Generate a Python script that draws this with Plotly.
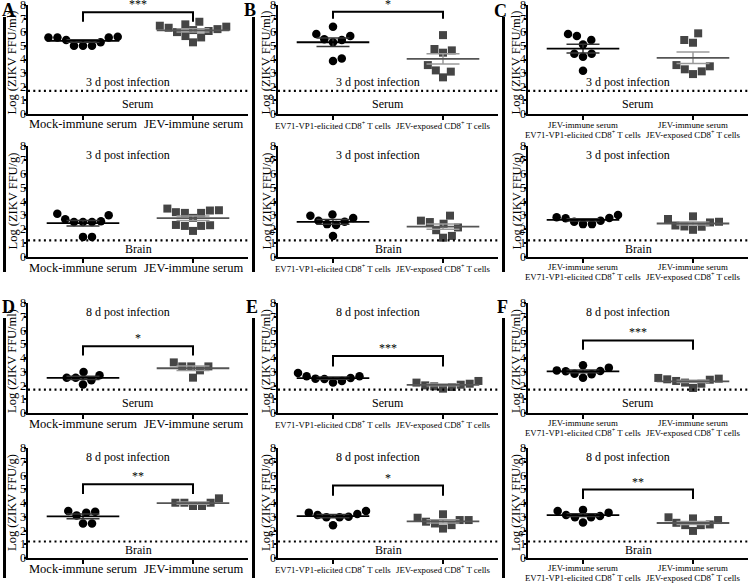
import math
import plotly.graph_objects as go

# ---------------- data (log10 ZIKV FFU) ----------------
A3_serum_mock = [5.67, 5.62, 5.43, 5.01, 5.01, 5.01, 5.26, 5.62, 5.62]
A3_serum_jev = [6.58, 6.41, 6.23, 6.09, 5.72, 6.01, 5.26, 6.16, 5.62, 6.33, 6.48, 6.77]
A3_brain_mock = [3.01, 2.72, 2.53, 2.53, 2.53, 2.58, 3.11, 1.45, 1.45]
A3_brain_jev = [3.37, 3.23, 3.18, 2.82, 3.18, 3.35, 3.49, 2.29, 2.24, 1.88, 2.24, 2.31]
B3_serum_ev71 = [5.72, 5.43, 6.41, 5.26, 5.48, 5.87, 3.89, 4.08]
B3_serum_jev = [5.79, 4.77, 4.50, 4.67, 3.59, 3.20, 3.11, 2.69]
B3_brain_ev71 = [2.98, 2.62, 2.37, 3.06, 2.30, 2.54, 2.81, 1.52]
B3_brain_jev = [2.98, 1.93, 2.52, 1.39, 2.40, 1.52, 2.13, 2.62]
C3_serum_ev71 = [5.72, 5.87, 5.43, 5.10, 4.43, 4.43, 4.20, 3.17]
C3_serum_jev = [5.92, 5.43, 5.23, 3.59, 3.28, 2.93, 3.13, 3.50]
C3_brain_ev71 = [2.86, 2.79, 2.54, 2.37, 2.37, 2.62, 2.81, 3.03]
C3_brain_jev = [2.49, 2.20, 2.93, 1.96, 2.18, 2.74, 2.27, 2.54]
D8_serum_mock = [2.74, 2.57, 2.98, 2.08, 2.38, 2.57]
D8_serum_jev = [3.68, 3.39, 2.57, 3.10, 3.39, 3.39]
D8_brain_mock = [3.37, 3.10, 3.29, 3.41, 2.51, 2.51]
D8_brain_jev = [4.02, 4.02, 3.78, 3.78, 4.02, 4.34]
E8_serum_ev71 = [2.67, 2.55, 2.47, 2.21, 2.33, 2.50, 2.67, 2.91]
E8_serum_jev = [2.21, 2.06, 1.94, 1.77, 1.89, 2.01, 2.13, 2.33]
E8_brain_ev71 = [3.13, 3.30, 2.96, 3.20, 2.39, 2.96, 3.42, 3.00]
E8_brain_jev = [2.76, 2.51, 3.18, 2.14, 2.39, 2.93, 2.64, 2.76]
F8_serum_ev71 = [3.30, 3.03, 2.86, 3.47, 2.57, 2.81, 3.05, 3.10]
F8_serum_jev = [2.42, 2.21, 2.50, 1.82, 2.13, 2.55, 2.33, 2.45]
F8_brain_ev71 = [3.13, 3.42, 2.96, 3.30, 2.59, 2.96, 3.50, 3.05]
F8_brain_jev = [2.56, 2.88, 2.39, 2.76, 1.97, 2.96, 2.39, 2.44]

labels_mock = [["Mock-immune serum"], ["JEV-immune serum"]]
labels_cd8 = [["EV71-VP1-elicited CD8<sup>+</sup> T cells"], ["JEV-exposed CD8<sup>+</sup> T cells"]]
labels_combo = [["JEV-immune serum", "EV71-VP1-elicited CD8<sup>+</sup> T cells"],
                ["JEV-immune serum", "JEV-exposed CD8<sup>+</sup> T cells"]]
y_ticks = [0, 1, 2, 3, 4, 5, 6, 7, 8]
serum_limit = 1.7
brain_limit = 1.2

# panels in reading order (row-major), with significance labels
panels = [
    (A3_serum_mock, A3_serum_jev, labels_mock, "serum", "3 d", "***"),
    (B3_serum_ev71, B3_serum_jev, labels_cd8, "serum", "3 d", "*"),
    (C3_serum_ev71, C3_serum_jev, labels_combo, "serum", "3 d", None),
    (A3_brain_mock, A3_brain_jev, labels_mock, "brain", "3 d", None),
    (B3_brain_ev71, B3_brain_jev, labels_cd8, "brain", "3 d", None),
    (C3_brain_ev71, C3_brain_jev, labels_combo, "brain", "3 d", None),
    (D8_serum_mock, D8_serum_jev, labels_mock, "serum", "8 d", "*"),
    (E8_serum_ev71, E8_serum_jev, labels_cd8, "serum", "8 d", "***"),
    (F8_serum_ev71, F8_serum_jev, labels_combo, "serum", "8 d", "***"),
    (D8_brain_mock, D8_brain_jev, labels_mock, "brain", "8 d", "**"),
    (E8_brain_ev71, E8_brain_jev, labels_cd8, "brain", "8 d", "*"),
    (F8_brain_ev71, F8_brain_jev, labels_combo, "brain", "8 d", "**"),
]
# bracket (top, leg end) in data units, per panel
brackets = {0: (7.46, 6.77), 1: (7.5, 7.0), 6: (4.85, 4.19), 7: (4.15, 3.39),
            8: (5.28, 4.6), 9: (5.37, 4.66), 10: (5.27, 4.53), 11: (4.98, 4.29)}

# ---------------- layout geometry (px) ----------------
W, H = 750, 585
cols = [(28, 248), (278, 498), (528, 748)]
rows = [(5, 114), (146, 257), (303, 413), (448, 558)]
SERIF = "Liberation Serif, Times New Roman, serif"
XPX = (cols[0][1] - cols[0][0]) / 2.0   # px per x unit
D_PX = 9.0     # horizontal spacing between neighbouring dots
DY_PX = 11.5   # vertical reach within which dots are spread sideways


def swarm(vals, ypx):
    order = sorted(range(len(vals)), key=lambda i: vals[i])
    placed = []
    offs = [0.0] * len(vals)

    def ok(c, y):
        return all(((c - px) / D_PX) ** 2 + ((y - py) / DY_PX) ** 2 >= 1 - 1e-6
                   for px, py in placed)

    for i in order:
        y = vals[i] * ypx
        cands = [0.0]
        for px, py in placed:
            dy = abs(y - py)
            if dy < DY_PX:
                dx = D_PX * math.sqrt(1 - (dy / DY_PX) ** 2)
                cands += [px + dx, px - dx]
        flip = len(placed) % 2
        cands.sort(key=lambda c: (round(abs(c), 4), (c < 0) if flip else (c > 0)))
        for c in cands:
            if ok(c, y):
                offs[i] = c
                placed.append((c, y))
                break
    return [o / XPX for o in offs]


def mean_sem(v):
    m = sum(v) / len(v)
    sd = math.sqrt(sum((x - m) ** 2 for x in v) / (len(v) - 1))
    return m, sd / math.sqrt(len(v))


fig = go.Figure()
annotations = []
shapes = []
layout = {}

for p, (g1, g2, labels, tissue, day, stars) in enumerate(panels):
    r, c = divmod(p, 3)
    i = p + 1
    xa = "x" if i == 1 else f"x{i}"
    ya = "y" if i == 1 else f"y{i}"
    ypx = (rows[r][1] - rows[r][0]) / 8.0
    layout["xaxis" if i == 1 else f"xaxis{i}"] = dict(
        domain=[cols[c][0] / W, cols[c][1] / W], anchor=ya, range=[-0.5, 1.5],
        tickvals=[0, 1], showticklabels=False, automargin=False,
        showline=True, linecolor="black", linewidth=1.5,
        ticks="outside", ticklen=4, tickwidth=1.5, tickcolor="black", showgrid=False,
        zeroline=False)
    layout["yaxis" if i == 1 else f"yaxis{i}"] = dict(
        domain=[1 - rows[r][1] / H, 1 - rows[r][0] / H], anchor=xa, range=[0, 8],
        tickvals=y_ticks, showticklabels=False, automargin=False, showline=True,
        linecolor="black", linewidth=1.5,
        ticks="outside", ticklen=2, tickwidth=1.5, tickcolor="black", showgrid=False,
        zeroline=False)

    # y tick labels, set tight against the axis
    for t in y_ticks:
        annotations.append(dict(x=-0.5, y=t, xref=xa, yref=ya, xshift=-2.2, text=str(t),
                                showarrow=False, xanchor="right", yanchor="middle",
                                borderpad=0, borderwidth=0,
                                font=dict(family=SERIF, size=12, color="black")))

    # category labels under the x axis
    for k, lines in enumerate(labels):
        if c == 0:
            shifts, fs = [-10.5], 12.5
        elif c == 1:
            shifts, fs = [-11.5], 8.8
        else:
            base = -11 if r == 0 else -10
            shifts, fs = [base, base - 9.5], 8.8
        for txt, sh in zip(lines, shifts):
            annotations.append(dict(x=k, y=0, xref=xa, yref=ya, yshift=sh, text=txt,
                                    showarrow=False, xanchor="center", yanchor="middle",
                                    borderpad=0,
                                    font=dict(family=SERIF, size=fs, color="black")))

    for k, (vals, sym, col, mcol, scol) in enumerate([
            (g1, "circle", "black", "black", "#333333"),
            (g2, "square", "#454545", "#555555", "#9a9a9a")]):
        offs = swarm(vals, ypx)
        fig.add_trace(go.Scatter(
            x=[k + o for o in offs], y=vals, mode="markers", xaxis=xa, yaxis=ya,
            marker=dict(symbol=sym, size=8.5 if sym == "circle" else 8, color=col,
                        line=dict(width=0)),
            cliponaxis=False, showlegend=False, hoverinfo="y"))
        m, s = mean_sem(vals)
        fig.add_trace(go.Scatter(
            x=[k - 0.15, k + 0.15, None, k - 0.15, k + 0.15, None, k, k],
            y=[m + s, m + s, None, m - s, m - s, None, m - s, m + s],
            mode="lines", xaxis=xa, yaxis=ya, line=dict(color=scol, width=1.5),
            showlegend=False, hoverinfo="skip"))
        fig.add_trace(go.Scatter(
            x=[k - 0.33, k + 0.33], y=[m, m], mode="lines", xaxis=xa, yaxis=ya,
            line=dict(color=mcol, width=1.8), showlegend=False, hoverinfo="skip"))

    # detection limit
    lim = serum_limit if tissue == "serum" else brain_limit
    fig.add_trace(go.Scatter(
        x=[-0.5, 1.5], y=[lim, lim], mode="lines", xaxis=xa, yaxis=ya,
        line=dict(color="black", width=2.2, dash="2px,3.3px"),
        showlegend=False, hoverinfo="skip"))

    # bracket
    if stars:
        top, leg = brackets[p]
        fig.add_trace(go.Scatter(
            x=[0, 0, 1, 1], y=[leg, top, top, leg], mode="lines", xaxis=xa, yaxis=ya,
            line=dict(color="black", width=2), cliponaxis=False,
            showlegend=False, hoverinfo="skip"))
        annotations.append(dict(x=0.5, y=top, xref=xa, yref=ya, text=stars,
                                showarrow=False, xanchor="center", yanchor="bottom", borderpad=0,
                                font=dict(family=SERIF, size=12, color="black")))

    # texts
    ypost = 2.35 if (tissue == "serum" and day == "3 d") else 7.35
    annotations.append(dict(x=0.41, y=ypost, xref=xa, yref=ya, xanchor="center", yanchor="middle",
                            text=f"{day} post infection", showarrow=False,
                            font=dict(family=SERIF, size=12, color="black")))
    annotations.append(dict(x=0.5, y=0.75 if tissue == "serum" else 0.6, xref=xa, yref=ya,
                            xanchor="center", yanchor="middle",
                            text="Serum" if tissue == "serum" else "Brain", showarrow=False,
                            font=dict(family=SERIF, size=12, color="black")))
    # y title
    tx = [12, 266, 516][c]
    ty = (rows[r][0] + rows[r][1]) / 2 + (3 if tissue == "serum" else 0)
    annotations.append(dict(x=tx / W, y=1 - ty / H,
                            xref="paper", yref="paper", textangle=-90, showarrow=False,
                            xanchor="center", yanchor="middle",
                            text="Log (ZIKV FFU/ml)" if tissue == "serum" else "Log (ZIKV FFU/g)",
                            font=dict(family=SERIF, size=12.5, color="black")))

# panel letters
for letter, (lx, ly) in zip("ABCDEF", [(8, 10), (250, 10), (500, 11), (8, 307), (252, 307), (502, 307)]):
    annotations.append(dict(x=lx / W, y=1 - ly / H, xref="paper", yref="paper", text=f"<b>{letter}</b>",
                            showarrow=False, xanchor="center", yanchor="middle",
                            font=dict(family=SERIF, size=18, color="black")))

# thick separator bars
for bx in [4.5, 253.5, 503.5]:
    for (y0, y1) in [(17, 272), (318, 578)]:
        shapes.append(dict(type="line", xref="paper", yref="paper", x0=bx / W, x1=bx / W,
                           y0=1 - y0 / H, y1=1 - y1 / H, line=dict(color="black", width=3)))

fig.update_layout(width=W, height=H, margin=dict(l=0, r=0, t=0, b=0),
                  plot_bgcolor="white", paper_bgcolor="white",
                  annotations=annotations, shapes=shapes, showlegend=False, **layout)
fig.write_html("out.html", config={"displayModeBar": False},
               post_script="document.body.style.margin='0';document.body.style.overflow='hidden';")
